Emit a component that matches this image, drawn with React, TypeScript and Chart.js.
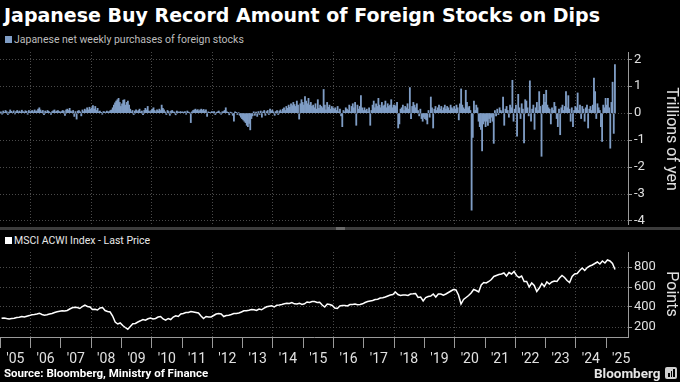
import React, { useEffect, useRef } from "react";
import { Chart, registerables } from "chart.js";

Chart.register(...registerables);

// ---------- Data: Japanese net purchases of foreign stocks (trillion yen), ~bi-weekly samples ----------
const flowYears = [2005, 2006, 2007, 2008, 2009, 2010, 2011, 2012, 2013, 2014, 2015, 2016, 2017, 2018, 2019, 2020, 2021, 2022, 2023, 2024, 2025];
const flow2005 = [0.05, -0.04, 0.08, 0.03, 0.1, 0.06, -0.05, 0.04, 0.12, 0.07, 0.02, 0.09, -0.03, 0.06, 0.1, 0.05, 0.08, 0.04, 0.11, 0.06, 0.03, 0.09, 0.07, -0.04, 0.1, 0.05];
const flow2006 = [0.08, 0.1, 0.05, 0.12, 0.06, 0.09, 0.15, 0.2, 0.12, 0.05, 0.1, -0.06, 0.08, 0.04, 0.1, 0.07, 0.03, -0.05, 0.06, 0.09, 0.12, 0.05, 0.08, 0.1, 0.06, 0.04];
const flow2007 = [0.06, 0.1, 0.08, -0.08, 0.12, 0.15, 0.1, 0.18, 0.08, 0.05, 0.1, -0.12, 0.06, -0.22, 0.08, 0.1, 0.05, -0.1, 0.12, 0.06, 0.15, 0.1, 0.2, 0.12, 0.22, 0.15];
const flow2008 = [0.2, 0.28, 0.15, 0.25, 0.1, 0.18, 0.05, 0.08, 0.03, -0.04, 0.06, 0.05, 0.02, 0.08, 0.04, 0.06, 0.1, 0.12, 0.2, 0.3, 0.38, 0.45, 0.5, 0.55, 0.4, 0.25];
const flow2009 = [0.35, 0.48, 0.5, 0.3, 0.4, 0.45, 0.3, 0.15, 0.05, 0.1, -0.05, 0.08, 0.12, 0.06, 0.1, 0.15, 0.05, 0.08, -0.06, 0.1, 0.18, 0.12, 0.25, 0.08, 0.05, 0.1];
const flow2010 = [0.15, 0.2, 0.1, 0.05, 0.12, 0.08, 0.15, 0.1, 0.3, 0.18, 0.12, 0.05, -0.05, 0.1, 0.06, -0.08, 0.08, 0.1, 0.05, 0.04, -0.06, 0.08, 0.05, 0.03, 0.06, 0.04];
const flow2011 = [0.05, 0.03, 0.06, -0.04, 0.08, 0.04, 0.02, -0.35, 0.05, 0.1, 0.12, 0.15, 0.1, 0.13, 0.08, 0.12, 0.15, 0.1, 0.14, 0.08, 0.12, -0.12, 0.05, 0.03, 0.02, 0.06];
const flow2012 = [0.04, 0.06, -0.05, 0.03, 0.05, 0.08, 0.02, -0.04, 0.05, 0.06, 0.1, 0.2, 0.05, 0.03, -0.06, 0.04, 0.02, -0.08, -0.3, 0.05, 0.03, -0.05, 0.02, -0.08, -0.15, -0.2];
const flow2013 = [-0.25, -0.3, -0.35, -0.45, -0.5, -0.38, -0.62, -0.2, -0.1, 0.05, -0.08, 0.04, -0.12, 0.06, -0.05, 0.08, -0.15, 0.05, 0.1, -0.08, 0.06, 0.1, -0.05, 0.15, 0.08, 0.12];
const flow2014 = [0.05, -0.08, 0.06, 0.1, -0.05, 0.08, 0.12, 0.05, 0.15, 0.2, 0.1, 0.25, 0.18, 0.3, 0.22, 0.35, 0.28, 0.4, 0.32, 0.25, 0.45, 0.3, -0.22, 0.35, 0.5, 0.4];
const flow2015 = [0.3, 0.62, 0.45, 0.35, 0.55, 0.3, 0.4, 0.25, 0.3, 0.2, 0.35, 0.15, 0.5, 0.18, 0.3, 0.25, 0.2, 0.88, 0.3, 0.12, 0.4, 0.22, 0.3, 0.15, 0.25, 0.2];
const flow2016 = [0.15, 0.2, 0.1, 0.25, 0.05, 0.15, -0.1, -0.5, 0.1, 0.05, 0.2, 0.15, 0.1, 0.3, 0.05, 0.25, 0.35, 0.2, 0.4, -0.45, 0.3, 0.15, 0.25, 0.65, 0.2, 0.1];
const flow2017 = [0.2, 0.1, 0.15, 0.05, 0.2, -0.45, 0.1, 0.3, 0.45, 0.2, 0.35, 0.25, 0.55, 0.3, 0.2, 0.4, 0.25, 0.3, 0.45, 0.2, 0.35, 0.25, 0.3, 0.5, 0.2, 0.3];
const flow2018 = [0.3, 0.25, 0.4, -0.55, -0.4, 0.15, 0.2, 0.3, 0.1, 0.25, 0.2, 0.35, 0.15, 0.95, -0.2, 0.25, 0.4, 0.3, 0.2, 0.35, 0.1, -0.1, 0.15, -0.2, -0.3, -0.15];
const flow2019 = [-0.2, -0.25, -0.4, 0.1, -0.15, 0.6, 0.2, -0.55, 0.15, 0.25, 0.1, 0.2, 0.3, 0.15, 0.25, 0.1, 0.2, 0.3, 0.15, 0.25, 0.2, 0.1, 0.3, 0.2, 0.15, 0.25];
const flow2020 = [0.15, 0.3, 0.2, -0.25, 0.35, 0.9, 0.3, 0.2, 0.15, 0.85, 0.4, 0.2, 0.25, 0.1, -3.6, -0.9, 0.45, 0.1, 0.3, 0.2, -0.3, -0.5, -0.6, -1.4, -0.4, -0.3];
const flow2021 = [-0.5, -0.3, -0.45, -0.2, -0.35, -0.15, -0.3, -1.12, 0.1, -0.1, 0.15, -0.05, 0.2, 0.1, 0.05, 0.6, -0.45, 0.15, 0.25, 0.1, -0.15, 0.3, 0.2, 1.22, -0.3, 0.15];
const flow2022 = [0.3, -0.85, 0.7, 0.2, -0.2, 0.35, 0.15, -1.1, 0.5, 0.45, 0.2, -0.1, 1.2, -0.3, 0.15, 0.3, -0.6, 0.2, 0.4, 0.1, 0.8, 0.25, -1.6, 0.3, 0.7, 0.4];
const flow2023 = [0.85, 0.3, 0.2, 0.15, -0.4, 0.2, 0.1, 0.4, 0.25, -0.2, -0.5, 0.15, -0.8, 0.2, 0.3, 0.1, 0.25, 0.8, 0.2, 0.65, 0.15, -0.3, 0.2, -0.5, 0.1, 0.25];
const flow2024 = [0.2, 0.75, 0.1, 0.3, -0.2, 0.25, 0.15, -0.3, 0.2, 0.3, -0.55, 0.15, 0.25, 0.1, 0.3, 1.3, 0.8, -0.2, 0.35, 0.2, 0.1, -0.5, -1.05, 0.3, 0.2, 0.55];
const flow2025 = [0.3, 0.55, 0.2, -1.3, 0.4, 1.15, -0.75, 1.8];
const flowByYear = [flow2005, flow2006, flow2007, flow2008, flow2009, flow2010, flow2011, flow2012, flow2013, flow2014, flow2015, flow2016, flow2017, flow2018, flow2019, flow2020, flow2021, flow2022, flow2023, flow2024, flow2025];
const FLOW_SAMPLES_PER_YEAR = 26;

// ---------- Data: MSCI ACWI Index, monthly ----------
const acwi2005 = [288, 290, 284, 280, 284, 288, 295, 298, 305, 300, 308, 314];
const acwi2006 = [322, 325, 330, 338, 325, 318, 322, 330, 335, 345, 352, 358];
const acwi2007 = [362, 360, 365, 380, 392, 398, 395, 385, 405, 420, 405, 400];
const acwi2008 = [375, 378, 370, 390, 395, 365, 355, 350, 310, 250, 230, 240];
const acwi2009 = [215, 195, 178, 205, 232, 235, 250, 262, 275, 268, 282, 290];
const acwi2010 = [280, 285, 300, 305, 280, 268, 285, 275, 300, 312, 305, 330];
const acwi2011 = [335, 345, 345, 355, 350, 345, 340, 310, 285, 305, 300, 300];
const acwi2012 = [315, 330, 335, 330, 305, 315, 318, 325, 335, 335, 340, 350];
const acwi2013 = [362, 362, 368, 375, 372, 365, 380, 372, 388, 402, 408, 412];
const acwi2014 = [400, 418, 420, 425, 432, 438, 435, 445, 432, 430, 438, 425];
const acwi2015 = [432, 450, 445, 455, 455, 445, 448, 420, 400, 430, 425, 415];
const acwi2016 = [390, 385, 410, 415, 415, 410, 425, 425, 430, 422, 425, 432];
const acwi2017 = [445, 455, 460, 465, 475, 478, 490, 492, 500, 510, 520, 525];
const acwi2018 = [550, 525, 515, 520, 520, 515, 530, 532, 535, 495, 500, 460];
const acwi2019 = [495, 505, 510, 530, 500, 530, 530, 518, 530, 545, 560, 575];
const acwi2020 = [570, 520, 430, 475, 495, 515, 540, 575, 565, 550, 620, 645];
const acwi2021 = [640, 655, 675, 705, 715, 725, 730, 740, 710, 745, 730, 755];
const acwi2022 = [715, 695, 710, 655, 655, 600, 640, 615, 555, 590, 635, 605];
const acwi2023 = [650, 630, 650, 660, 655, 690, 715, 695, 665, 645, 705, 730];
const acwi2024 = [735, 765, 790, 765, 795, 810, 820, 835, 850, 830, 860, 840];
const acwi2025 = [870, 860, 835, 775];
const acwiByYear = [acwi2005, acwi2006, acwi2007, acwi2008, acwi2009, acwi2010, acwi2011, acwi2012, acwi2013, acwi2014, acwi2015, acwi2016, acwi2017, acwi2018, acwi2019, acwi2020, acwi2021, acwi2022, acwi2023, acwi2024, acwi2025];

// ---------- Axis ticks ----------
const xTickYears = [2005, 2006, 2007, 2008, 2009, 2010, 2011, 2012, 2013, 2014, 2015, 2016, 2017, 2018, 2019, 2020, 2021, 2022, 2023, 2024, 2025];
const xTickLabels = ["'05", "'06", "'07", "'08", "'09", "'10", "'11", "'12", "'13", "'14", "'15", "'16", "'17", "'18", "'19", "'20", "'21", "'22", "'23", "'24", "'25"];
const flowTicks = [-4, -3, -2, -1, 0, 1, 2];
const acwiTicks = [200, 400, 600, 800];

const X_MIN = 2004.99;
const X_MAX = 2025.72;
const FONT = "Roboto, 'Liberation Sans', sans-serif";
const GRID = "#4a4a4a";
const AXIS = "#9a9a9a";
const TICKTXT = "#e0e0e0";
const BAR = "#7f9dc5";

const flowPoints = flowYears.flatMap((yr, k) =>
  flowByYear[k].map((v, i) => ({ x: yr + (i + 0.5) / FLOW_SAMPLES_PER_YEAR, y: v }))
);
const acwiPoints = flowYears.flatMap((yr, k) =>
  acwiByYear[k].map((v, i) => ({ x: yr + (i + 0.5) / 12, y: v }))
);

const evenGrid = (ctx: any) =>
  ctx.tick && ctx.tick.value % 2 === 0 ? GRID : "rgba(0,0,0,0)";

const fixY = (s: any) => {
  s.width = 52;
  s.paddingTop = 0;
  s.paddingBottom = 0;
};

export default function App() {
  const topRef = useRef<HTMLCanvasElement>(null);
  const botRef = useRef<HTMLCanvasElement>(null);

  useEffect(() => {
    const top = new Chart(topRef.current!, {
      type: "bar",
      data: {
        datasets: [
          {
            data: flowPoints as any,
            backgroundColor: BAR,
            borderWidth: 0,
            barPercentage: 1,
            categoryPercentage: 1,
          },
        ],
      },
      options: {
        animation: false,
        responsive: false,
        maintainAspectRatio: false,
        layout: { padding: { top: 4, left: 0, right: 0, bottom: 0 } },
        plugins: { legend: { display: false }, tooltip: { enabled: false } },
        scales: {
          x: {
            type: "linear",
            min: X_MIN,
            max: X_MAX,
            offset: false,
            afterBuildTicks: (s: any) => {
              s.ticks = xTickYears.map((v) => ({ value: v }));
            },
            ticks: { display: false },
            grid: { color: evenGrid, drawTicks: false, offset: false, lineWidth: 1 },
            border: { display: false, dash: [1, 2] },
            afterFit: (s: any) => {
              s.height = 0;
              s.paddingLeft = 0;
              s.paddingRight = 0;
            },
          },
          y: {
            position: "right",
            min: -4.15,
            max: 2.27,
            afterBuildTicks: (s: any) => {
              s.ticks = flowTicks.map((v) => ({ value: v }));
            },
            ticks: { color: TICKTXT, font: { family: FONT, size: 13 }, padding: 2 },
            grid: { color: GRID, tickColor: AXIS, tickLength: 4, tickBorderDash: [] },
            border: { color: AXIS, dash: [1, 2] },
            afterFit: fixY,
          },
        },
      } as any,
    });

    const bot = new Chart(botRef.current!, {
      type: "line",
      data: {
        datasets: [
          {
            data: acwiPoints as any,
            borderColor: "#ffffff",
            borderWidth: 1.5,
            pointRadius: 0,
            tension: 0,
            fill: false,
          },
        ],
      },
      options: {
        animation: false,
        responsive: false,
        maintainAspectRatio: false,
        layout: { padding: { top: 4, left: 0, right: 0, bottom: 0 } },
        plugins: { legend: { display: false }, tooltip: { enabled: false } },
        scales: {
          x: {
            type: "linear",
            min: X_MIN,
            max: X_MAX,
            afterBuildTicks: (s: any) => {
              s.ticks = xTickYears.map((v) => ({ value: v }));
            },
            ticks: {
              color: TICKTXT,
              font: { family: FONT, size: 14 },
              autoSkip: false,
              maxRotation: 0,
              labelOffset: 15,
              padding: 3,
              callback: (_v: any, i: number) => xTickLabels[i],
            },
            grid: {
              color: evenGrid,
              tickColor: AXIS,
              tickLength: 11,
              tickBorderDash: [],
            },
            border: { color: AXIS, dash: [1, 2] },
            afterFit: (s: any) => {
              s.height = 45;
              s.paddingLeft = 0;
              s.paddingRight = 0;
            },
          },
          y: {
            position: "right",
            min: 100,
            max: 950,
            afterBuildTicks: (s: any) => {
              s.ticks = acwiTicks.map((v) => ({ value: v }));
            },
            ticks: { color: TICKTXT, font: { family: FONT, size: 13 }, padding: 2 },
            grid: { color: GRID, tickColor: AXIS, tickLength: 4, tickBorderDash: [] },
            border: { color: AXIS, dash: [1, 2] },
            afterFit: fixY,
          },
        },
      } as any,
    });

    return () => {
      top.destroy();
      bot.destroy();
    };
  }, []);

  const abs: React.CSSProperties = { position: "absolute", margin: 0, whiteSpace: "nowrap" };
  const vtitle: React.CSSProperties = {
    ...abs,
    writingMode: "vertical-rl",
    fontSize: 16,
    color: TICKTXT,
    lineHeight: "18px",
    transform: "translate(-50%, -50%)",
  };

  return (
    <div
      style={{
        position: "fixed",
        left: 0,
        top: 0,
        width: 680,
        height: 382,
        background: "#000",
        overflow: "hidden",
        fontFamily: FONT,
      }}
    >
      <div style={{ ...abs, left: 4, top: 3, fontSize: 19, fontWeight: 700, color: "#fff", lineHeight: "24px", fontFamily: "'DejaVu Sans', sans-serif" }}>
        Japanese Buy Record Amount of Foreign Stocks on Dips
      </div>
      <div style={{ ...abs, left: 5, top: 36, width: 7, height: 7, background: BAR }} />
      <div style={{ ...abs, left: 14, top: 33, fontSize: 10.5, color: "#bdbdbd", lineHeight: "13px" }}>
        Japanese net weekly purchases of foreign stocks
      </div>
      <canvas ref={topRef} width={680} height={177} style={{ position: "absolute", left: 0, top: 48, width: 680, height: 177 }} />
      <div style={{ ...vtitle, left: 672, top: 139 }}>Trillions of yen</div>
      <div style={{ ...abs, left: 0, top: 227, width: 680, height: 3, background: "#3c3c3c" }} />
      <div style={{ ...abs, left: 336, top: 227, width: 9, height: 3, background: "#6a6a6a" }} />
      <div style={{ ...abs, left: 5, top: 237, width: 7, height: 7, background: "#fff" }} />
      <div style={{ ...abs, left: 14, top: 234, fontSize: 10.5, color: "#e8e8e8", lineHeight: "14px" }}>
        MSCI ACWI Index - Last Price
      </div>
      <canvas ref={botRef} width={680} height={134} style={{ position: "absolute", left: 0, top: 248, width: 680, height: 134 }} />
      <div style={{ ...vtitle, left: 672, top: 294 }}>Points</div>
      <div style={{ ...abs, left: 4, top: 366, fontSize: 11.5, fontWeight: 700, color: "#fff", lineHeight: "15px" }}>
        Source: Bloomberg, Ministry of Finance
      </div>
      <div style={{ ...abs, left: 594, top: 364, fontSize: 13.5, fontWeight: 700, color: "#e6e6e6", lineHeight: "18px" }}>
        Bloomberg
      </div>
      <div style={{ ...abs, left: 665, top: 367, width: 12, height: 12, borderRadius: 2, background: "#cfcfcf" }}>
        <div style={{ position: "absolute", left: 3, top: 6, width: 1.5, height: 4, background: "#000" }} />
        <div style={{ position: "absolute", left: 5.5, top: 4, width: 1.5, height: 6, background: "#000" }} />
        <div style={{ position: "absolute", left: 8, top: 2, width: 1.5, height: 8, background: "#000" }} />
      </div>
    </div>
  );
}
